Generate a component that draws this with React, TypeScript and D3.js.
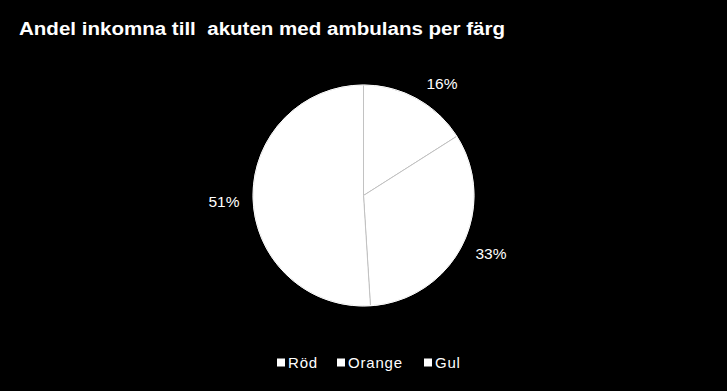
import React from "react";
import * as d3 from "d3";

const categories = ["Röd", "Orange", "Gul"];
const values = [16, 33, 51];
const labelPos = [
  [442, 88.5],
  [491, 258.5],
  [224, 207],
];
const legendX = [277, 337, 424];

export default function App() {
  const W = 727, H = 391;
  const cx = 363.5, cy = 195.5, r = 110.5;
  const pie = d3.pie<number>().sort(null).value((d) => d)(values);
  const arc = d3.arc<d3.PieArcDatum<number>>().innerRadius(0).outerRadius(r);
  const font = "'Liberation Sans', Arial, sans-serif";
  return (
    <svg width={W} height={H} style={{ position: "absolute", left: 0, top: 0, background: "#000" }}>
      <rect width={W} height={H} fill="#000" />
      <text
        x={19}
        y={34.5}
        fill="#fff"
        fontFamily={font}
        fontWeight="bold"
        fontSize={18}
        textLength={486}
        lengthAdjust="spacingAndGlyphs"
        style={{ whiteSpace: "pre" }}
      >
        {"Andel inkomna till  akuten med ambulans per färg"}
      </text>
      <g transform={`translate(${cx},${cy})`}>
        {pie.map((p, i) => (
          <path key={i} d={arc(p) || ""} fill="#fff" stroke="#bdbdbd" strokeWidth={0.8} />
        ))}
      </g>
      <circle cx={cx} cy={cy} r={r} fill="none" stroke="#fff" strokeWidth={1} />
      {values.map((v, i) => (
        <text
          key={i}
          x={labelPos[i][0]}
          y={labelPos[i][1]}
          fill="#fff"
          fontFamily={font}
          fontSize={15.5}
          textAnchor="middle"
        >
          {v}%
        </text>
      ))}
      {categories.map((c, i) => (
        <g key={c}>
          <rect x={legendX[i]} y={358.5} width={8} height={8} fill="#fff" />
          <text x={legendX[i] + 11} y={368} fill="#fff" fontFamily={font} fontSize={15} letterSpacing={0.8}>
            {c}
          </text>
        </g>
      ))}
    </svg>
  );
}
